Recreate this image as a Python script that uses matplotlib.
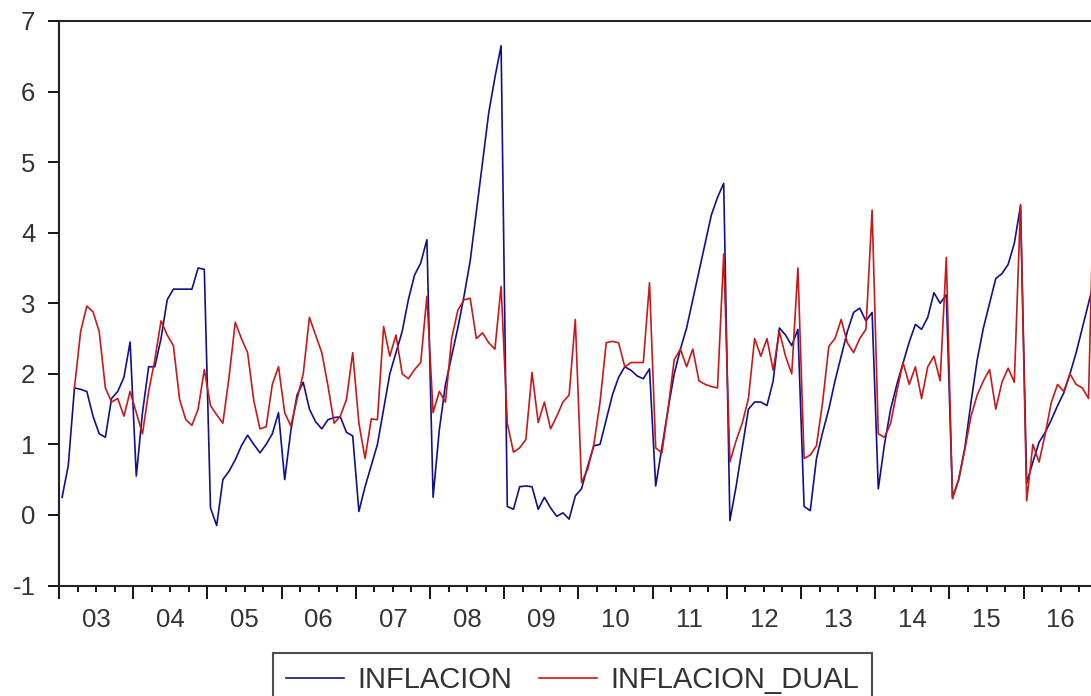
import numpy as np
import matplotlib.pyplot as plt
from matplotlib.ticker import FixedLocator, FixedFormatter, NullFormatter

plt.rcParams['font.family'] = ['Liberation Sans', 'DejaVu Sans']
plt.rcParams['axes.unicode_minus'] = False

# monthly data, Jan 2003 .. Dec 2016
years = list(range(2003, 2017))
year_labels = ['03', '04', '05', '06', '07', '08', '09', '10', '11', '12', '13', '14', '15', '16']

inflacion = [
    0.25, 0.70, 1.80, 1.78, 1.75, 1.40, 1.15, 1.10, 1.65, 1.75, 1.95, 2.45,    # 2003
    0.55, 1.45, 2.10, 2.10, 2.50, 3.05, 3.20, 3.20, 3.20, 3.20, 3.50, 3.48,    # 2004
    0.10, -0.15, 0.50, 0.62, 0.78, 0.98, 1.13, 1.00, 0.88, 1.00, 1.15, 1.45,   # 2005
    0.50, 1.20, 1.70, 1.88, 1.50, 1.32, 1.22, 1.35, 1.38, 1.39, 1.17, 1.12,    # 2006
    0.05, 0.40, 0.70, 1.00, 1.50, 2.00, 2.30, 2.60, 3.05, 3.40, 3.57, 3.90,    # 2007
    0.25, 1.20, 1.85, 2.25, 2.65, 3.10, 3.60, 4.30, 5.00, 5.70, 6.20, 6.65,    # 2008
    0.12, 0.08, 0.40, 0.41, 0.40, 0.08, 0.25, 0.10, -0.02, 0.03, -0.06, 0.27,  # 2009
    0.37, 0.69, 0.98, 1.00, 1.35, 1.70, 1.95, 2.10, 2.05, 1.97, 1.93, 2.07,    # 2010
    0.41, 0.95, 1.50, 2.00, 2.35, 2.65, 3.05, 3.45, 3.85, 4.25, 4.50, 4.70,    # 2011
    -0.08, 0.40, 0.95, 1.50, 1.60, 1.60, 1.55, 1.90, 2.65, 2.55, 2.40, 2.63,   # 2012
    0.12, 0.06, 0.80, 1.17, 1.50, 1.90, 2.25, 2.60, 2.87, 2.93, 2.75, 2.87,    # 2013
    0.37, 1.00, 1.50, 1.85, 2.15, 2.45, 2.70, 2.63, 2.80, 3.15, 3.00, 3.12,    # 2014
    0.25, 0.50, 0.95, 1.60, 2.20, 2.65, 3.00, 3.35, 3.42, 3.55, 3.85, 4.38,    # 2015
    0.45, 0.75, 1.03, 1.17, 1.35, 1.55, 1.73, 2.00, 2.30, 2.65, 3.00, 3.35,    # 2016
]

inflacion_dual = [
    np.nan, np.nan, 1.80, 2.60, 2.96, 2.88, 2.60, 1.80, 1.60, 1.65, 1.40, 1.75,  # 2003
    1.45, 1.15, 1.75, 2.20, 2.75, 2.55, 2.40, 1.64, 1.35, 1.27, 1.50, 2.06,      # 2004
    1.55, 1.42, 1.30, 1.95, 2.73, 2.50, 2.30, 1.62, 1.22, 1.25, 1.85, 2.10,      # 2005
    1.45, 1.26, 1.64, 2.00, 2.80, 2.55, 2.30, 1.83, 1.30, 1.40, 1.64, 2.30,      # 2006
    1.30, 0.80, 1.36, 1.35, 2.67, 2.25, 2.55, 2.00, 1.93, 2.06, 2.16, 3.10,      # 2007
    1.45, 1.75, 1.60, 2.50, 2.90, 3.05, 3.07, 2.50, 2.58, 2.44, 2.35, 3.24,      # 2008
    1.30, 0.89, 0.95, 1.07, 2.02, 1.31, 1.60, 1.22, 1.40, 1.60, 1.70, 2.77,      # 2009
    0.46, 0.65, 1.00, 1.60, 2.44, 2.46, 2.44, 2.10, 2.16, 2.16, 2.16, 3.29,      # 2010
    0.95, 0.88, 1.50, 2.20, 2.35, 2.10, 2.35, 1.90, 1.85, 1.82, 1.80, 3.70,      # 2011
    0.75, 1.05, 1.30, 1.65, 2.50, 2.25, 2.50, 2.05, 2.60, 2.25, 2.00, 3.50,      # 2012
    0.80, 0.85, 0.98, 1.60, 2.39, 2.50, 2.77, 2.44, 2.30, 2.50, 2.63, 4.32,      # 2013
    1.15, 1.10, 1.30, 1.75, 2.16, 1.85, 2.10, 1.65, 2.10, 2.25, 1.90, 3.65,      # 2014
    0.23, 0.50, 0.93, 1.40, 1.70, 1.90, 2.06, 1.50, 1.88, 2.08, 1.88, 4.40,      # 2015
    0.20, 1.00, 0.75, 1.15, 1.60, 1.85, 1.75, 2.00, 1.85, 1.80, 1.65, 5.20,      # 2016
]

t = 2003 + (np.arange(len(inflacion)) + 0.5) / 12

W, H = 1091, 696
fig = plt.figure(figsize=(W / 100, H / 100), dpi=100)
ax = fig.add_axes([59 / W, 110.5 / H, 1 - 59 / W, 564.5 / H])

ax.plot(t, inflacion, color='#10108f', lw=1.2, label='INFLACION')
ax.plot(t, inflacion_dual, color='#c81818', lw=1.2, label='INFLACION_DUAL')

ax.set_xlim(2003, 2003 + (W - 59) / 74.2)
ax.set_ylim(-1, 7)
ax.set_yticks(range(-1, 8))

ax.xaxis.set_major_locator(FixedLocator(years))
ax.xaxis.set_major_formatter(NullFormatter())
minor = [y + q for y in years for q in (0.25, 0.5, 0.75)]
minor_lab = [lab for l in year_labels for lab in ('', l, '')]
ax.xaxis.set_minor_locator(FixedLocator(minor))
ax.xaxis.set_minor_formatter(FixedFormatter(minor_lab))

for s in ['left', 'bottom', 'top']:
    ax.spines[s].set_linewidth(1.5)
    ax.spines[s].set_color('#222222')
ax.spines['right'].set_visible(False)

ax.tick_params(axis='y', which='major', direction='out', length=8, width=1.3,
               pad=9, labelsize=18.5, labelcolor='#333333')
ax.tick_params(axis='x', which='major', direction='out', length=9, width=1.3)
ax.tick_params(axis='x', which='minor', direction='out', length=4.5, width=1.3,
               pad=11.5, labelsize=18.5, labelcolor='#333333')

leg = fig.legend(loc='upper center', bbox_to_anchor=(572.5 / W, 1 - 653 / H),
                 ncol=2, fontsize=21, frameon=True, fancybox=False,
                 handlelength=2.0, handletextpad=0.45, columnspacing=0.9,
                 borderpad=0.45, borderaxespad=0)
leg.get_frame().set_edgecolor('#222222')
leg.get_frame().set_linewidth(1.5)
for txt in leg.get_texts():
    txt.set_color('#333333')

fig.savefig('out.png', dpi=100)
